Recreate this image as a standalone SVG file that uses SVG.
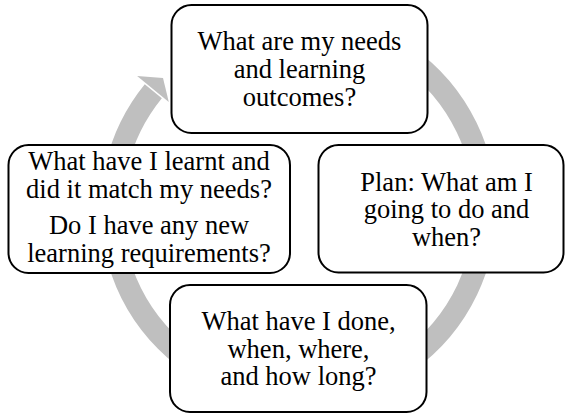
<svg xmlns="http://www.w3.org/2000/svg" width="565" height="414" viewBox="0 0 565 414">
<style>
.box{fill:#ffffff;stroke:#000000;stroke-width:2}
.t{font-family:"Liberation Serif","Times New Roman",serif;font-size:26.5px;fill:#000000;text-anchor:middle}
.ring{fill:none;stroke:#bfbfbf;stroke-width:22}
.head{fill:#bfbfbf}
</style>
<rect width="565" height="414" fill="#ffffff"/>
<g id="connectors">
<path class="ring" d="M 235 33.3 A 187 187 0 1 1 153.3 91.3"/>
<polygon class="head" points="137.1,76 163,78 168.8,102.1"/>
</g>
<g id="node-needs">
<rect class="box" x="171.5" y="5" width="256" height="128" rx="20" ry="20"/>
<text class="t" x="299.5" y="50">What are my needs</text>
<text class="t" x="299.5" y="78">and learning</text>
<text class="t" x="299.5" y="106">outcomes?</text>
</g>
<g id="node-plan">
<rect class="box" x="318.5" y="145" width="245" height="127.5" rx="20" ry="20"/>
<text class="t" x="446.5" y="190.5">Plan: What am I</text>
<text class="t" x="446.5" y="218">going to do and</text>
<text class="t" x="446.5" y="245.5">when?</text>
</g>
<g id="node-done">
<rect class="box" x="170" y="285" width="256.5" height="127" rx="20" ry="20"/>
<text class="t" x="298.5" y="330">What have I done,</text>
<text class="t" x="298.5" y="357.5">when, where,</text>
<text class="t" x="298.5" y="385">and how long?</text>
</g>
<g id="node-review">
<rect class="box" x="8.5" y="145" width="281.5" height="128" rx="20" ry="20"/>
<text class="t" x="149" y="169.5">What have I learnt and</text>
<text class="t" x="149" y="197.5">did it match my needs?</text>
<text class="t" x="149" y="234">Do I have any new</text>
<text class="t" x="149" y="262">learning requirements?</text>
</g>
</svg>
